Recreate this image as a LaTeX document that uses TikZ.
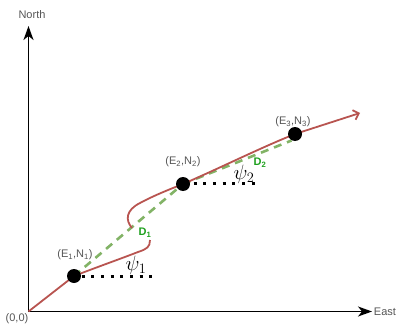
\documentclass[tikz,border=0pt]{standalone}
\usepackage{fontspec}
\setmainfont{Liberation Sans}
\usetikzlibrary{arrows.meta}
\definecolor{redline}{HTML}{B85450}
\definecolor{greenline}{HTML}{82B366}
\definecolor{greentext}{RGB}{30,160,30}
\definecolor{labelgray}{RGB}{85,85,85}
\begin{document}
\begin{tikzpicture}[x=1pt,y=-1pt,
  axisline/.style={line width=1.6pt,-{Stealth[length=14pt,width=10pt,inset=4pt]}},
  track/.style={draw=redline,line width=1.8pt},
  chord/.style={draw=greenline,line width=2.6pt,dash pattern=on 8pt off 6pt},
  headingline/.style={line width=3pt,dash pattern=on 3pt off 6.7pt},
  fixpt/.style={circle,fill=black,minimum size=14pt,inner sep=0pt},
  lbl/.style={text=labelgray,font=\fontsize{11}{13}\selectfont,inner sep=0pt},
  dlbl/.style={text=greentext,font=\fontsize{11}{13}\selectfont\bfseries,inner sep=0pt},
  anglelbl/.style={font=\fontsize{21}{24}\selectfont,inner sep=0pt}]
\useasboundingbox (0,0) rectangle (396,329);

% axes
\coordinate (O) at (28.5,311.5);
\coordinate (Ntip) at (28.5,26);
\coordinate (Etip) at (372,311.5);
\draw[axisline] (O) -- (Ntip);
\draw[axisline] (O) -- (Etip);
\node[lbl] (north) at (32,15) {North};
\node[lbl] (east) at (385,312) {East};
\node[lbl] (origin) at (17,319) {(0,0)};

% fixes
\coordinate (P1) at (74,276);
\coordinate (P2) at (183,184);
\coordinate (P3) at (295,134);
\coordinate (G3) at (291.5,140.5);

% green chords
\draw[chord] (P1) -- (P2);
\draw[chord] (P2) -- (G3);

% red track
\draw[track] (O) -- (P1) .. controls (100,266) and (120,259) .. (138,252)
   .. controls (147,249) and (150,247) .. (150,240);
\coordinate (T2) at (132,228);
\coordinate (Rtip) at (360,113);
\draw[track,-{Straight Barb[length=5pt,width=10pt]}] (T2)
   .. controls (125,220) and (126,210) .. (140,203)
   .. controls (155,195) and (168,190) .. (P2)
   .. controls (220,168) and (260,148) .. (P3) -- (Rtip);

% heading lines
\coordinate (H1a) at (81.5,276);
\coordinate (H1b) at (153,276);
\coordinate (H2a) at (193.5,183.5);
\coordinate (H2b) at (255,183.5);
\draw[headingline] (H1a) -- (H1b);
\draw[headingline] (H2a) -- (H2b);

% dots
\node[fixpt] (p1) at (P1) {};
\node[fixpt] (p2) at (P2) {};
\node[fixpt] (p3) at (P3) {};

% labels
\node[lbl] (l1) at (75,255) {(E\textsubscript{1},N\textsubscript{1})};
\node[lbl] (l2) at (183,162) {(E\textsubscript{2},N\textsubscript{2})};
\node[lbl] (l3) at (293,122) {(E\textsubscript{3},N\textsubscript{3})};
\node[dlbl] (d1) at (145,233) {D\textsubscript{1}};
\node[dlbl] (d2) at (260,163) {D\textsubscript{2}};
\node[anglelbl] (psi1) at (136,265) {$\psi_1$};
\node[anglelbl] (psi2) at (244,174) {$\psi_2$};
\end{tikzpicture}
\end{document}
